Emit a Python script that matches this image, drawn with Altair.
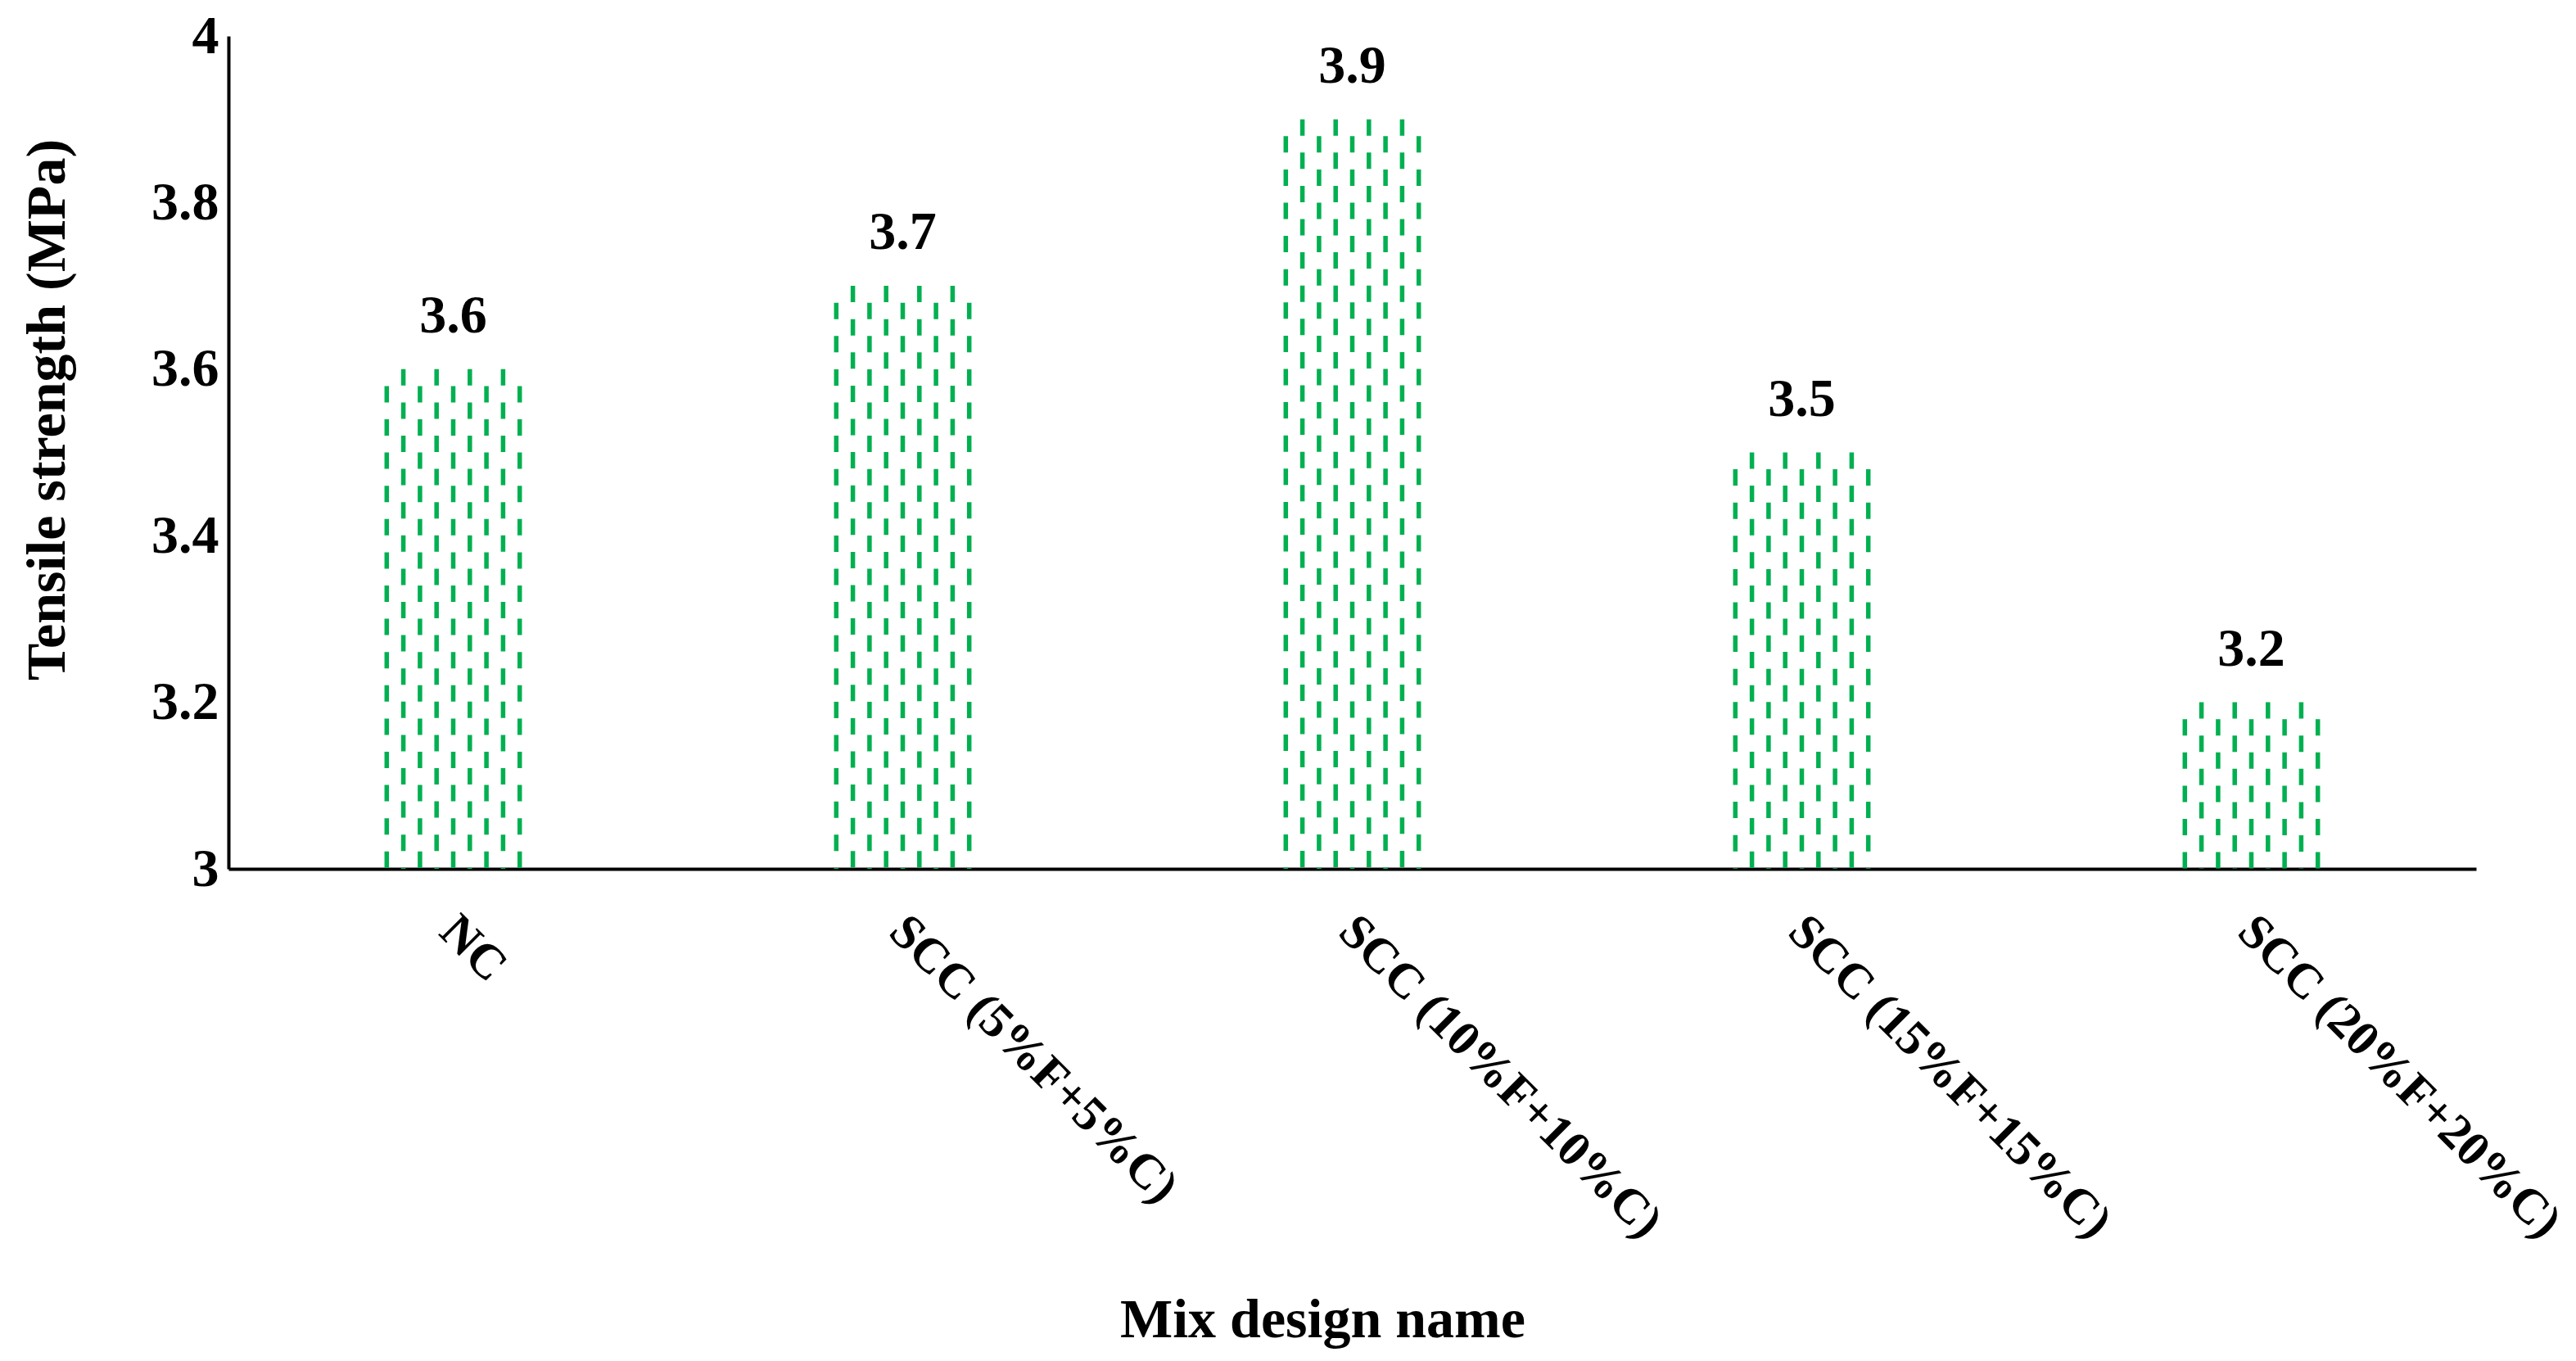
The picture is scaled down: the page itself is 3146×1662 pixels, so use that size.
import altair as alt
import pandas as pd

categories = ["NC", "SCC (5%F+5%C)", "SCC (10%F+10%C)", "SCC (15%F+15%C)", "SCC (20%F+20%C)"]
values = [3.6, 3.7, 3.9, 3.5, 3.2]
y_ticks = [3, 3.2, 3.4, 3.6, 3.8, 4]

df = pd.DataFrame({"cat": categories, "val": values})

FONT = "Liberation Serif"
GREEN = "#00B050"

x_enc = alt.X(
    "cat:N",
    sort=categories,
    scale=alt.Scale(paddingInner=0.69, paddingOuter=0.345),
    axis=alt.Axis(
        title="Mix design name",
        labelAngle=45,
        labelPadding=46,
        labelOffset=14,
        labelFont=FONT,
        labelFontSize=60,
        labelFontWeight="bold",
        labelColor="black",
        ticks=False,
        domainColor="black",
        domainWidth=4,
        titleFont=FONT,
        titleFontSize=68,
        titleFontWeight="bold",
        titleColor="black",
        titleX=1336,
        titleY=571,
        titleBaseline="alphabetic",
        titleAnchor="middle",
        labelOverlap=False,
        labelLimit=0,
    ),
)

y_enc = alt.Y(
    "val:Q",
    scale=alt.Scale(domain=[3, 4], zero=False, nice=False),
    axis=alt.Axis(
        title="Tensile strength (MPa)",
        values=y_ticks,
        format="~g",
        labelFont=FONT,
        labelFontSize=66,
        labelFontWeight="bold",
        labelColor="black",
        labelPadding=12,
        ticks=False,
        grid=False,
        domainColor="black",
        domainWidth=4,
        titleFont=FONT,
        titleFontSize=68,
        titleFontWeight="bold",
        titleColor="black",
        titleX=-201,
        titleY=456,
        titleAngle=-90,
        titleBaseline="alphabetic",
        titleAlign="center",
    ),
)

base = alt.Chart(df)

layers = []
step = 20.3
for k in range(9):
    off = (k - 4) * step
    dash_offset = 0 if k % 2 == 1 else 20
    layers.append(
        base.mark_rule(
            color=GREEN,
            strokeWidth=5.5,
            strokeDash=[20, 20.6],
            strokeDashOffset=dash_offset,
            xOffset=off,
        ).encode(x=x_enc, y=y_enc, y2=alt.datum(3))
    )

labels = base.mark_text(
    dy=-45,
    baseline="alphabetic",
    font=FONT,
    fontSize=66,
    fontWeight="bold",
    color="black",
).encode(x=x_enc, y=y_enc, text=alt.Text("val:Q", format=".1f"))

chart = (
    alt.layer(*layers, labels)
    .properties(
        width=2745,
        height=1017,
        background="white",
        autosize=alt.AutoSizeParams(type="none"),
        padding={"left": 271, "top": 36, "right": 114, "bottom": 593},
    )
    .configure_view(strokeWidth=0, stroke=None)
)

chart.save("out.html", embed_options={"renderer": "svg", "actions": False})
